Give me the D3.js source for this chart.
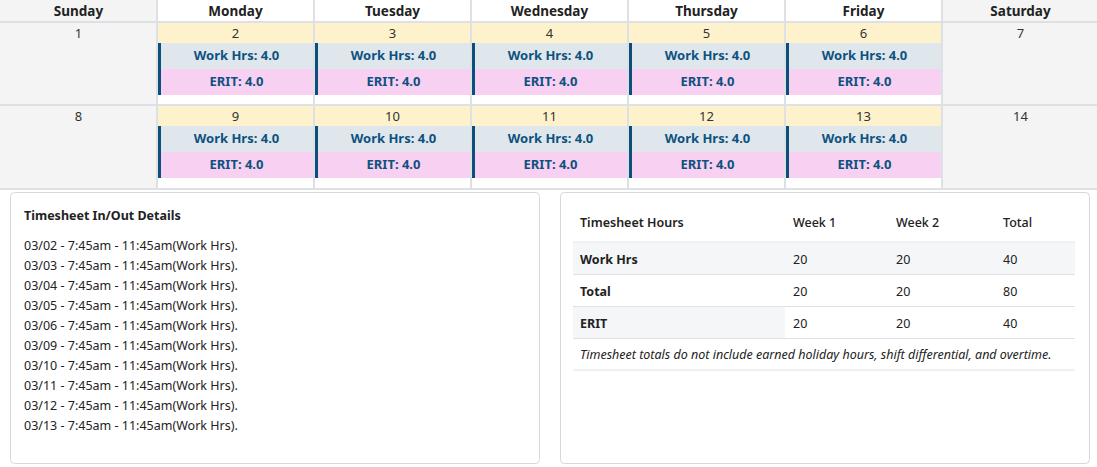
<!DOCTYPE html><html><head><meta charset="utf-8">
<script src="https://cdn.jsdelivr.net/npm/d3@7"></script>
<style>body{margin:0;background:#fff}svg{font-family:"Noto Sans","Open Sans",sans-serif}</style></head><body>
<svg id="c" width="1097" height="467"></svg>
<script>
const weekdays=["Sunday","Monday","Tuesday","Wednesday","Thursday","Friday","Saturday"];
const week1=[1,2,3,4,5,6,7];
const week2=[8,9,10,11,12,13,14];
const workHrs=4.0, eritHrs=4.0;
const details=["03/02","03/03","03/04","03/05","03/06","03/09","03/10","03/11","03/12","03/13"];
const detailText=" - 7:45am - 11:45am(Work Hrs).";
const tableHeader=["Timesheet Hours","Week 1","Week 2","Total"];
const rowLabels=["Work Hrs","Total","ERIT"];
const week1Vals=[20,20,20], week2Vals=[20,20,20], totalVals=[40,80,40];
const note="Timesheet totals do not include earned holiday hours, shift differential, and overtime.";

const svg=d3.select("#c");
const x=d3.scaleBand().domain(d3.range(7)).range([0,1099]).paddingInner(0);
const rowY=d3.scaleBand().domain([0,1]).range([23,189]);
const isWE=i=>i==0||i==6;
// header
weekdays.forEach((d,i)=>{
  svg.append("rect").attr("x",x(i)).attr("y",0).attr("width",x.bandwidth()).attr("height",22).attr("fill",isWE(i)?"#f4f4f4":"#fff");
  svg.append("text").attr("x",x(i)+x.bandwidth()/2).attr("y",16).attr("text-anchor","middle").attr("font-size",13.5).attr("font-weight",700).attr("fill","#222").text(d);
});
[week1,week2].forEach((wk,r)=>{
  const y0=rowY(r), h=rowY.bandwidth();
  wk.forEach((day,i)=>{
    const cx=x(i)+1, w=x.bandwidth()-2;
    if(isWE(i)){
      svg.append("rect").attr("x",x(i)).attr("y",y0).attr("width",x.bandwidth()).attr("height",h).attr("fill","#f4f4f4");
      svg.append("text").attr("x",x(i)+x.bandwidth()/2).attr("y",y0+15).attr("text-anchor","middle").attr("font-size",13).attr("fill","#333").text(day);
    } else {
      svg.append("rect").attr("x",cx).attr("y",y0).attr("width",w).attr("height",20).attr("fill","#fdf2cc");
      svg.append("text").attr("x",x(i)+x.bandwidth()/2).attr("y",y0+15).attr("text-anchor","middle").attr("font-size",13).attr("fill","#333").text(day);
      svg.append("rect").attr("x",cx).attr("y",y0+20).attr("width",w).attr("height",26).attr("fill","#dfe6ec");
      svg.append("rect").attr("x",cx).attr("y",y0+46).attr("width",w).attr("height",26).attr("fill","#f8d0f1");
      svg.append("rect").attr("x",cx).attr("y",y0+20).attr("width",3).attr("height",52).attr("fill","#0c4f7a");
      svg.append("text").attr("x",x(i)+x.bandwidth()/2+1).attr("y",y0+37).attr("text-anchor","middle").attr("font-size",13).attr("font-weight",700).attr("fill","#0d527f").text("Work Hrs: "+workHrs.toFixed(1));
      svg.append("text").attr("x",x(i)+x.bandwidth()/2+1).attr("y",y0+63).attr("text-anchor","middle").attr("font-size",13).attr("font-weight",700).attr("fill","#0d527f").text("ERIT: "+eritHrs.toFixed(1));
    }
  });
});
// grid lines
const g="#dde1e6";
[22,105,189].forEach(yy=>svg.append("rect").attr("x",0).attr("y",yy-1).attr("width",1097).attr("height",2).attr("fill",g));
d3.range(1,7).forEach(i=>svg.append("rect").attr("x",x(i)-1).attr("y",0).attr("width",2).attr("height",189).attr("fill",g));

// cards
[[10,192],[560,192]].forEach(([cx,cy])=>svg.append("rect").attr("x",cx+0.5).attr("y",cy+0.5).attr("width",529).attr("height",271).attr("rx",4).attr("fill","#fff").attr("stroke","#d4d7db"));
svg.append("text").attr("x",24).attr("y",220).attr("font-size",12.5).attr("font-weight",700).attr("fill","#222").text("Timesheet In/Out Details");
const ly=d3.scalePoint().domain(details).range([250,430]);
details.forEach(d=>svg.append("text").attr("x",24).attr("y",ly(d)).attr("font-size",12.5).attr("fill","#222").text(d+detailText));

// table
const colX=d3.scaleOrdinal().domain(tableHeader).range([580,793,896,1003]);
const ty=d3.scaleBand().domain(rowLabels).range([243,339]);
svg.append("rect").attr("x",573).attr("y",ty("Work Hrs")).attr("width",502).attr("height",ty.bandwidth()).attr("fill","#f5f6f8");
svg.append("rect").attr("x",573).attr("y",ty("ERIT")).attr("width",212).attr("height",ty.bandwidth()).attr("fill","#f5f6f8");
tableHeader.forEach(h=>svg.append("text").attr("x",colX(h)).attr("y",227).attr("font-size",12.5).attr("font-weight",h==tableHeader[0]?600:500).attr("fill","#222").text(h));
rowLabels.forEach((r,k)=>{
  const yy=ty(r)+ty.bandwidth()/2+5;
  svg.append("text").attr("x",580).attr("y",yy).attr("font-size",12.5).attr("font-weight",700).attr("fill","#222").text(r);
  [[1,week1Vals[k]],[2,week2Vals[k]],[3,totalVals[k]]].forEach(([c,v])=>svg.append("text").attr("x",colX(tableHeader[c])).attr("y",yy).attr("font-size",12.5).attr("fill","#222").text(v));
});
[242,274.5,306.5,338.5,370].forEach(yy=>svg.append("line").attr("x1",573).attr("x2",1075).attr("y1",yy).attr("y2",yy).attr("stroke","#dee2e6"));
svg.append("text").attr("x",580).attr("y",359).attr("font-size",12.5).attr("font-style","italic").attr("fill","#222").text(note);
</script></body></html>
